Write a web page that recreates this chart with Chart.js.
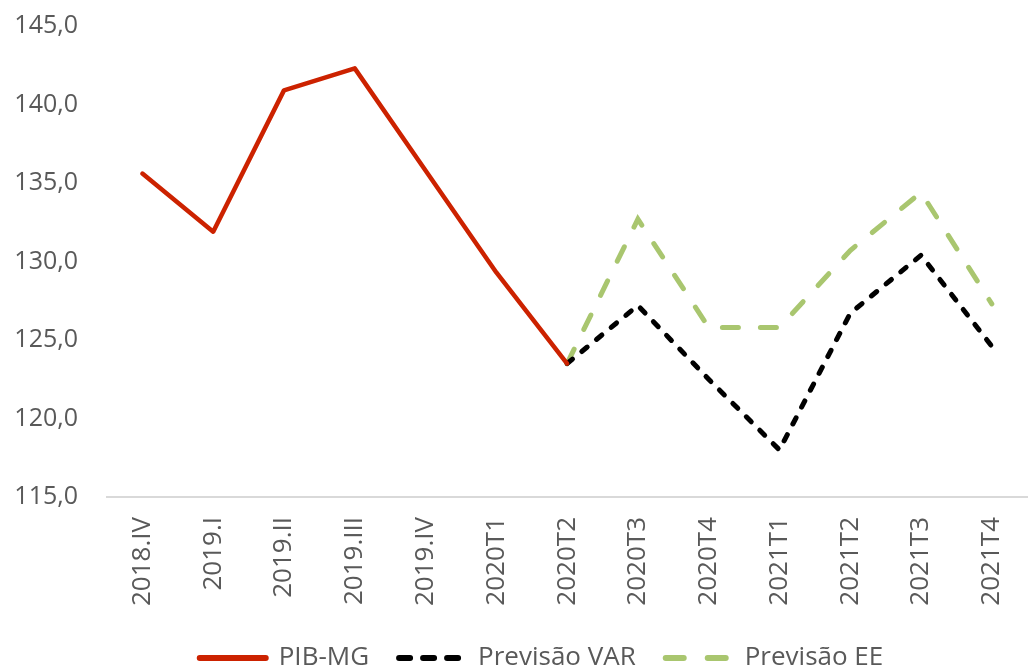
<!DOCTYPE html>
<html>
<head>
<meta charset="utf-8">
<script src="https://cdn.jsdelivr.net/npm/chart.js@4.4.0/dist/chart.umd.min.js"></script>
<style>
  html, body { margin: 0; padding: 0; background: #fff; overflow: hidden; }
  #wrap { width: 1043px; height: 681px; position: relative; }
  canvas { display: block; }
</style>
</head>
<body>
<div id="wrap"><canvas id="c" width="1043" height="681" style="width:1043px;height:681px"></canvas></div>
<script>
const categories = ['2018.IV','2019.I','2019.II','2019.III','2019.IV','2020T1','2020T2','2020T3','2020T4','2021T1','2021T2','2021T3','2021T4'];
const pibMG       = [135.6, 131.9, 140.9, 142.3, 135.8, 129.3, 123.5, null, null, null, null, null, null];
const previsaoVAR = [null, null, null, null, null, null, 123.5, 127.2, 122.5, 118.0, 126.7, 130.4, 124.6];
const previsaoEE  = [null, null, null, null, null, null, 123.5, 132.7, 125.8, 125.8, 130.7, 134.4, 127.3];
const yTicks = { min: 115, max: 145, step: 5 };

const FONT = "'Open Sans', 'Liberation Sans', sans-serif";
const GRAY = '#595959';
const legendDash = [[], [11, 13], [18, 24]];

const legendShift = {
  id: 'legendShift',
  afterLayout(chart) {
    const lg = chart.legend;
    if (lg) { lg.left += 20; lg.right += 20; }
  }
};

new Chart(document.getElementById('c'), {
  type: 'line',
  data: {
    labels: categories,
    datasets: [
      { label: 'PIB-MG', data: pibMG, borderColor: '#cc2200', backgroundColor: '#cc2200',
        borderWidth: 4.5, pointRadius: 0, pointStyle: 'line', tension: 0, borderCapStyle: 'round', borderJoinStyle: 'round' },
      { label: 'Previsão VAR', data: previsaoVAR, borderColor: '#000000', backgroundColor: '#000000',
        borderWidth: 5, borderDash: [7, 12], borderCapStyle: 'round', pointRadius: 0, pointStyle: 'line', tension: 0 },
      { label: 'Previsão EE', data: previsaoEE, borderColor: '#a9c66f', backgroundColor: '#a9c66f',
        borderWidth: 5, borderDash: [16, 22], borderCapStyle: 'round', pointRadius: 0, pointStyle: 'line', tension: 0 }
    ]
  },
  plugins: [legendShift],
  options: {
    responsive: false,
    maintainAspectRatio: false,
    devicePixelRatio: 1,
    animation: false,
    layout: { padding: { top: 26, left: 0, right: 0, bottom: 0 } },
    plugins: {
      tooltip: { enabled: false },
      legend: {
        position: 'bottom',
        labels: {
          usePointStyle: true,
          pointStyleWidth: 66,
          boxWidth: 66,
          boxHeight: 10,
          padding: 30,
          color: GRAY,
          font: { family: FONT, size: 26 },
          generateLabels: (chart) => chart.data.datasets.map((ds, i) => ({
            text: ds.label,
            fillStyle: ds.borderColor,
            strokeStyle: ds.borderColor,
            fontColor: GRAY,
            lineWidth: 6,
            lineCap: 'round',
            lineDash: legendDash[i],
            pointStyle: 'line',
            hidden: false,
            datasetIndex: i
          }))
        }
      }
    },
    scales: {
      x: {
        offset: true,
        grid: { display: false, drawTicks: false },
        border: { display: true, color: '#d9d9d9', width: 2 },
        ticks: { color: GRAY, font: { family: FONT, size: 26 }, maxRotation: 90, minRotation: 90, padding: 20, autoSkip: false },
        afterFit: (s) => { s.height = 118; }
      },
      y: {
        min: yTicks.min, max: yTicks.max,
        grid: { display: false, drawTicks: false },
        border: { display: false },
        ticks: { stepSize: yTicks.step, color: GRAY, font: { family: FONT, size: 25 }, padding: 29,
          callback: (v) => v.toFixed(1).replace('.', ',') },
        afterFit: (s) => { s.width = 107; s.paddingTop = 0; s.paddingBottom = 0; }
      }
    }
  }
});
</script>
</body>
</html>
